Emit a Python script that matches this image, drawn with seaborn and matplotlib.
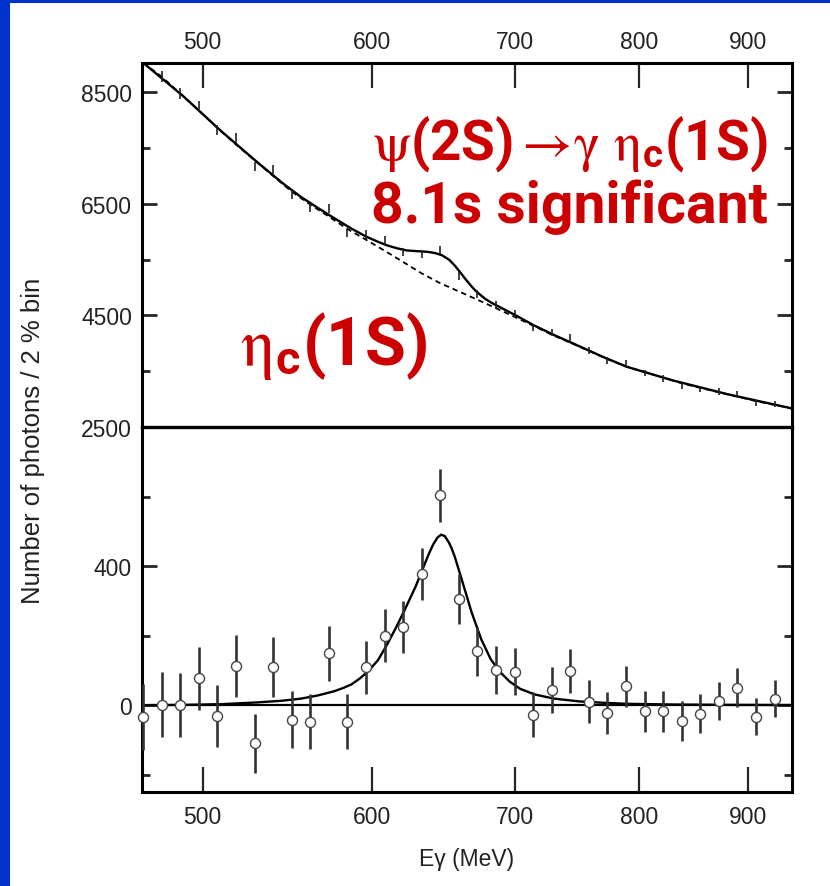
import matplotlib
matplotlib.use("Agg")
import matplotlib.pyplot as plt
import seaborn as sns
import pandas as pd
from matplotlib.patches import Rectangle
from matplotlib.ticker import FixedLocator, NullLocator, FixedFormatter

# ---------------- data ----------------
energy = [469.0, 478.5, 488.1, 498.0, 508.1, 518.3, 528.8, 539.5, 550.4, 561.5,
          572.8, 584.4, 596.2, 608.3, 620.6, 633.1, 645.9, 658.9, 672.3, 685.9,
          699.7, 713.8, 728.3, 743.0, 758.0, 773.3, 788.9, 804.9, 821.1, 837.7,
          854.6, 871.9, 889.5, 907.5, 925.8]
counts = [8995, 8782, 8480, 8252, 7829, 7678, 7172, 7110, 6678, 6441,
          6422, 5980, 5950, 5850, 5640, 5600, 5670, 5210, 4880, 4690,
          4535, 4289, 4198, 4110, 3875, 3694, 3636, 3467, 3368, 3239,
          3177, 3135, 3095, 2930, 2916]
count_err = [95, 94, 92, 91, 89, 88, 85, 85, 82, 80, 80, 78, 77, 77, 75, 75, 76, 72,
             70, 69, 68, 65, 65, 64, 62, 61, 60, 59, 58, 57, 56, 56, 56, 54, 54]
residual = [-35, 2, 0, 77, -31, 113, -109, 110, -42, -47, 149, -47, 109, 200, 224,
            377, 604, 305, 155, 102, 97, -27, 44, 99, 10, -23, 54, -18, -18, -45,
            -24, 12, 51, -33, 19]
residual_err = [95, 94, 92, 91, 89, 88, 85, 85, 82, 80, 80, 78, 77, 77, 75, 75, 76, 72,
                70, 69, 68, 65, 65, 64, 62, 61, 60, 59, 58, 57, 56, 56, 56, 54, 54]

bg_energy = [469.0, 478.5, 488.1, 498.0, 508.1, 518.3, 528.8, 539.5, 550.4, 561.5,
             572.8, 584.4, 596.2, 608.3, 620.6, 633.1, 645.9, 658.9, 672.3, 685.9,
             699.7, 713.8, 728.3, 743.0, 758.0, 773.3, 788.9, 804.9, 821.1, 837.7,
             854.6, 871.9, 889.5, 907.5, 925.8, 944.0]
bg_counts = [9030, 8780, 8480, 8175, 7860, 7565, 7281, 7000, 6720, 6488,
             6273, 6050, 5858, 5660, 5458, 5253, 5077, 4931, 4781, 4629,
             4474, 4316, 4154, 4011, 3865, 3717, 3582, 3485, 3386, 3284,
             3201, 3123, 3044, 2963, 2897, 2830]

fit_energy = [469, 490, 510, 530, 545, 556, 566, 573, 587, 597, 604, 610, 617, 623,
              630, 637, 642, 647, 652, 656, 660, 664, 668, 671, 675, 678, 683, 689,
              695, 701, 708, 715, 730, 750, 770, 790, 830, 880, 944]
fit_counts = [9030, 8422, 7808, 7257, 6872, 6622, 6430, 6300, 6055, 5905, 5820, 5755,
              5700, 5665, 5652, 5640, 5620, 5580, 5500, 5395, 5270, 5140, 5020, 4940,
              4855, 4795, 4720, 4645, 4570, 4496, 4405, 4316, 4150, 3950, 3752, 3577,
              3333, 3088, 2830]

sig_energy = [469, 490, 510, 530, 545, 556, 566, 576, 582, 587, 592, 598, 604, 610,
              616, 622, 629, 635, 638, 641, 644, 646.5, 649, 652, 654, 656, 658.5,
              661, 664.5, 668, 675, 682, 689, 696, 704, 715, 730, 750, 770, 790, 830,
              880, 944]
sig_counts = [0, 1, 3, 8, 13, 19, 28, 40, 50, 60, 76, 99, 130, 175, 225, 278, 342,
              405, 436, 463, 483, 491, 487, 468, 450, 428, 395, 362, 315, 268, 190,
              132, 95, 68, 47, 31, 19, 11, 7, 4, 2, 1, 0.5]

x_ticks = [500, 600, 700, 800, 900]
x_tick_labels = ["500", "600", "700", "800", "900"]
upper_major = [2500, 4500, 6500, 8500]
upper_minor = [3500, 5500, 7500]
lower_major = [0, 400]
lower_minor = [-200, 200, 600]

title_line1 = r"$\mathrm{\psi}$(2S)$\rightarrow\!\mathrm{\gamma}\ \mathrm{\eta}_{\mathregular{c}}$(1S)"
title_line2 = "8.1s significant"
label_left = r"$\mathrm{\eta}_{\mathregular{c}}$(1S)"
y_label = "Number of photons / 2 % bin"
x_label = "E\u03b3 (MeV)"

# ---------------- style ----------------
sns.set_theme(style="ticks")
plt.rcParams["font.family"] = ["Liberation Sans", "DejaVu Sans"]
plt.rcParams["mathtext.fontset"] = "stix"
plt.rcParams["axes.linewidth"] = 2.2

RED = "#CC0000"
BLUE = "#0033CC"
TXT = "#222222"

W, H = 830, 887
fig = plt.figure(figsize=(W / 100, H / 100), dpi=100)
fig.patch.set_facecolor("white")

L, R = 141.7, 792.3
T, M, B = 64.0, 428.0, 792.7
ax2 = fig.add_axes([L / W, 1 - B / H, (R - L) / W, (B - M) / H])
ax1 = fig.add_axes([L / W, 1 - M / H, (R - L) / W, (M - T) / H])
ax1.set_zorder(3)
ax2.set_zorder(2)

df_bg = pd.DataFrame({"E": bg_energy, "N": bg_counts})
df_fit = pd.DataFrame({"E": fit_energy, "N": fit_counts})
df_sig = pd.DataFrame({"E": sig_energy, "N": sig_counts})
df_pts = pd.DataFrame({"E": energy, "N": counts, "dN": count_err,
                       "R": residual, "dR": residual_err})

# upper panel
sns.lineplot(data=df_bg, x="E", y="N", ax=ax1, color="black", lw=1.3,
             linestyle=(0, (3, 2.2)), estimator=None, sort=False)
sns.lineplot(data=df_fit, x="E", y="N", ax=ax1, color="black", lw=1.7,
             estimator=None, sort=False)
ax1.errorbar(df_pts["E"], df_pts["N"], yerr=df_pts["dN"], fmt="none",
             ecolor="#222222", elinewidth=1.2, capsize=0)

# lower panel
ax2.axhline(0, color="black", lw=1.6, zorder=2)
sns.lineplot(data=df_sig, x="E", y="N", ax=ax2, color="black", lw=1.7,
             estimator=None, sort=False, zorder=3)
ax2.errorbar(df_pts["E"], df_pts["R"], yerr=df_pts["dR"], fmt="none",
             ecolor="#333333", elinewidth=1.9, capsize=0, zorder=4, clip_on=False)
sns.scatterplot(data=df_pts, x="E", y="R", ax=ax2, marker="o", s=52,
                facecolor="white", edgecolor="#444444", linewidth=1.0,
                zorder=5, clip_on=False)

for ax in (ax1, ax2):
    ax.set_xscale("log")
    ax.set_xlim(468.3, 943.6)
    ax.xaxis.set_major_locator(FixedLocator(x_ticks))
    ax.xaxis.set_major_formatter(FixedFormatter(x_tick_labels))
    ax.xaxis.set_minor_locator(NullLocator())
    ax.set_xlabel("")
    ax.set_ylabel("")
    for s in ax.spines.values():
        s.set_visible(True)
        s.set_linewidth(2.2)
        s.set_color("black")
    ax.tick_params(axis="y", which="major", direction="in", length=11, width=2,
                   left=True, right=True, labelright=False, labelsize=16.5,
                   labelcolor=TXT, pad=7)
    ax.tick_params(axis="y", which="minor", direction="in", length=6, width=2,
                   left=True, right=True)

ax1.patch.set_alpha(0)
ax1.set_ylim(2500, 9025)
ax1.yaxis.set_major_locator(FixedLocator(upper_major))
ax1.yaxis.set_minor_locator(FixedLocator(upper_minor))
ax1.tick_params(axis="x", which="major", direction="in", length=18, width=1.6,
                top=True, bottom=False, labeltop=True, labelbottom=False,
                labelsize=16.5, labelcolor=TXT, pad=7.5)
ax1.spines["bottom"].set_linewidth(2.4)

ax2.set_ylim(-249, 801)
ax2.yaxis.set_major_locator(FixedLocator(lower_major))
ax2.yaxis.set_minor_locator(FixedLocator(lower_minor))
ax2.spines["top"].set_visible(False)
ax2.tick_params(axis="x", which="major", direction="in", length=18, width=1.6,
                top=False, bottom=True, labeltop=False, labelbottom=True,
                labelsize=16.5, labelcolor=TXT, pad=9.5)

# axis titles
fig.text((L + R) / 2 / W, 1 - 860 / H, x_label, ha="center", va="center",
         fontsize=16.5, color=TXT)
fig.text(33 / W, 1 - 441 / H, y_label, rotation=90, ha="center", va="center",
         fontsize=18.5, color=TXT)

# red annotations
fig.text(372 / W, 1 - 160 / H, title_line1, ha="left", va="baseline",
         fontsize=39.5, color=RED, family="Roboto", weight="bold")
fig.text(371 / W, 1 - 223 / H, title_line2, ha="left", va="baseline",
         fontsize=41, color=RED, family="Roboto", weight="bold")
fig.text(240 / W, 1 - 365 / H, label_left, ha="left", va="baseline",
         fontsize=48, color=RED, family="Roboto", weight="bold")

# blue slide frame
fig.patches.append(Rectangle((0, 0), 10 / W, 1, transform=fig.transFigure,
                             facecolor=BLUE, edgecolor="none", zorder=10))
fig.patches.append(Rectangle((0, 1 - 3.7 / H), 1, 3.7 / H, transform=fig.transFigure,
                             facecolor=BLUE, edgecolor="none", zorder=10))

fig.savefig("out.png", dpi=100, facecolor="white")
